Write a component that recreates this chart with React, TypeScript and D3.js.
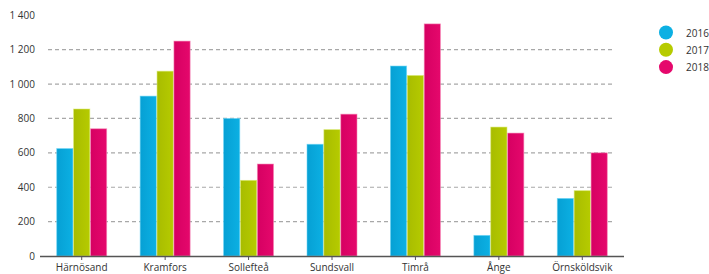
import * as d3 from 'd3';
import React, { useEffect, useRef } from 'react';

const categories = ['Härnösand', 'Kramfors', 'Sollefteå', 'Sundsvall', 'Timrå', 'Ånge', 'Örnsköldsvik'];
const years = ['2016', '2017', '2018'];
const values2016 = [625, 930, 800, 650, 1105, 120, 335];
const values2017 = [855, 1075, 440, 735, 1050, 750, 380];
const values2018 = [740, 1250, 535, 825, 1350, 715, 600];
const yTicks = [0, 200, 400, 600, 800, 1000, 1200, 1400];

const colors = ['#0cb0e3', '#b6cb00', '#e5086c'];
const darkColors = ['#06a0d4', '#a8bc00', '#d60062'];
const lightColors = ['#6fd6f6', '#d8e870', '#f78ab8'];

function App() {
    const ref = useRef(null);

    useEffect(() => {
        const svg = d3.select(ref.current);
        svg.selectAll('*').remove();

        const series = [values2016, values2017, values2018];
        const font = '"Open Sans", "DejaVu Sans", sans-serif';

        const x = d3.scaleBand().domain(categories).range([40, 624]).paddingInner(0).paddingOuter(0);
        const y = d3.scaleLinear().domain([0, 1400]).range([256, 15.3]);
        const inner = d3.scaleBand().domain(years).range([0, 50]).paddingInner(0.04);
        const groupOffset = (x.bandwidth() - 50) / 2;

        const defs = svg.append('defs');
        colors.forEach((c, i) => {
            const gr = defs.append('linearGradient').attr('id', 'g' + i)
                .attr('x1', '0').attr('x2', '1').attr('y1', '0').attr('y2', '0');
            gr.append('stop').attr('offset', '0').attr('stop-color', darkColors[i]);
            gr.append('stop').attr('offset', '1').attr('stop-color', c);
        });

        // gridlines
        svg.append('g').selectAll('line')
            .data(yTicks.filter(d => d > 0 && d < 1400))
            .enter().append('line')
            .attr('x1', 48).attr('x2', 615)
            .attr('y1', d => y(d)).attr('y2', d => y(d))
            .attr('stroke', '#a8a8a8').attr('stroke-width', 1.2)
            .attr('stroke-dasharray', '4,3');

        // y labels
        const fmt = (d) => d3.format(',')(d).replace(',', ' ');
        svg.append('g').selectAll('text')
            .data(yTicks)
            .enter().append('text')
            .attr('x', 35).attr('y', d => y(d) + 3.5)
            .attr('text-anchor', 'end')
            .style('font-family', font).style('font-size', '10px').attr('fill', '#333')
            .text(d => fmt(d));

        // bars
        years.forEach((yr, i) => {
            svg.append('g').selectAll('rect')
                .data(series[i])
                .enter().append('rect')
                .attr('x', (d, j) => x(categories[j]) + groupOffset + inner(yr))
                .attr('y', d => y(d))
                .attr('width', inner.bandwidth())
                .attr('height', d => y(0) - y(d))
                .attr('fill', 'url(#g' + i + ')')
                .attr('stroke', lightColors[i]).attr('stroke-opacity', 0.7).attr('stroke-width', 0.8);
        });

        // x axis
        svg.append('line')
            .attr('x1', 40).attr('x2', 624).attr('y1', y(0) + 0.5).attr('y2', y(0) + 0.5)
            .attr('stroke', '#555').attr('stroke-width', 1.5);
        svg.append('g').selectAll('line')
            .data(categories).enter().append('line')
            .attr('x1', d => x(d) + x.bandwidth() / 2).attr('x2', d => x(d) + x.bandwidth() / 2)
            .attr('y1', y(0)).attr('y2', y(0) + 4)
            .attr('stroke', '#555');
        svg.append('g').selectAll('text')
            .data(categories).enter().append('text')
            .attr('x', d => x(d) + x.bandwidth() / 2).attr('y', 271)
            .attr('text-anchor', 'middle')
            .style('font-family', font).style('font-size', '10px').attr('fill', '#333')
            .text(d => d);

        // legend
        const legend = svg.append('g').selectAll('g')
            .data(years).enter().append('g')
            .attr('transform', (d, i) => `translate(666, ${32.5 + i * 17.3})`);
        legend.append('circle').attr('r', 7).attr('fill', (d, i) => colors[i]);
        legend.append('text').attr('x', 20).attr('y', 4)
            .style('font-family', font).style('font-size', '10px').attr('fill', '#333')
            .text(d => d);
    }, []);

    return (
        <svg ref={ref} width={709} height={274} style={{ position: 'absolute', left: 0, top: 0 }}></svg>
    );
}

export default App;
